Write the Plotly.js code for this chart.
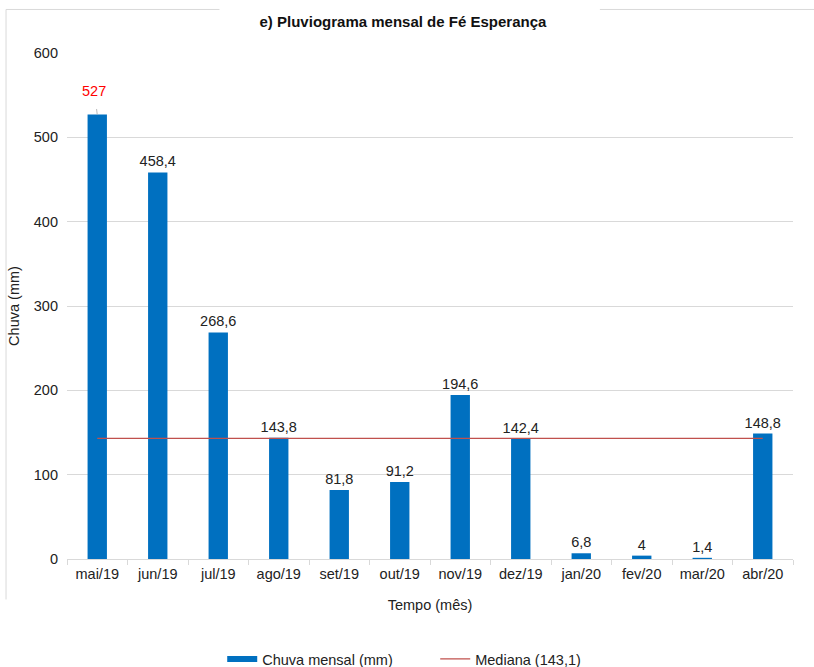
<!DOCTYPE html>
<html>
<head>
<meta charset="utf-8">
<script src="https://cdn.plot.ly/plotly-3.0.1.min.js"></script>
<style>
  html, body { margin: 0; padding: 0; background: #fff; }
  #chart { width: 814px; height: 667px; }
</style>
</head>
<body>
<div id="chart"></div>
<script>
// Monthly rainfall at Fé Esperança, May/2019 – Apr/2020
const months = ['mai/19', 'jun/19', 'jul/19', 'ago/19', 'set/19', 'out/19',
                'nov/19', 'dez/19', 'jan/20', 'fev/20', 'mar/20', 'abr/20'];
const rainfall = [527, 458.4, 268.6, 143.8, 81.8, 91.2, 194.6, 142.4, 6.8, 4, 1.4, 148.8];
const median = 143.1;

const fmt = v => String(v).replace('.', ',');
const FONT = 'Liberation Sans, Arial, sans-serif';
const FS = 14.5;
const BAR_COLOR = '#0070C0';

// peak month gets its own red callout; the rest are labelled on the bar
const peakIdx = rainfall.indexOf(Math.max(...rainfall));
const barText = rainfall.map((v, i) => i === peakIdx ? '' : fmt(v));

const bars = {
  type: 'bar',
  name: 'Chuva mensal (mm)',
  x: months,
  y: rainfall,
  marker: { color: BAR_COLOR },
  text: barText,
  textposition: 'outside',
  constraintext: 'none',
  cliponaxis: false,
  textfont: { family: FONT, size: FS, color: '#222' },
  showlegend: false,
  hoverinfo: 'x+y'
};

// legend key for the bars drawn as a thick flat swatch
const barKey = {
  type: 'scatter',
  mode: 'lines',
  name: 'Chuva mensal (mm)',
  x: [null], y: [null],
  line: { color: BAR_COLOR, width: 6 }
};

const medianLine = {
  type: 'scatter',
  mode: 'lines',
  name: 'Mediana (' + fmt(median) + ')',
  x: months,
  y: months.map(() => median),
  line: { color: '#C0504D', width: 1.3 }
};

const layout = {
  width: 814,
  height: 667,
  margin: { l: 67, r: 21, t: 53, b: 108 },
  paper_bgcolor: '#fff',
  plot_bgcolor: '#fff',
  font: { family: FONT, size: FS, color: '#222' },
  bargap: 0.68,
  title: {
    text: '<b>e) Pluviograma mensal de Fé Esperança</b>',
    font: { family: FONT, size: 15, color: '#111' },
    x: 0.495, xanchor: 'center', y: 0.967, yanchor: 'middle'
  },
  xaxis: {
    type: 'category',
    automargin: false,
    title: { text: 'Tempo (mês)', font: { family: FONT, size: FS, color: '#222' }, standoff: 18 },
    showline: true, linecolor: '#d9d9d9', linewidth: 1,
    ticks: 'outside', tickson: 'boundaries', ticklen: 5, tickcolor: '#d9d9d9',
    ticklabelstandoff: 2,
    tickfont: { family: FONT, size: FS, color: '#222' },
    showgrid: false, zeroline: false
  },
  yaxis: {
    automargin: false,
    title: { text: 'Chuva (mm)', font: { family: FONT, size: FS, color: '#222' }, standoff: 10 },
    range: [0, 600], dtick: 100,
    showgrid: true, gridcolor: '#d9d9d9', gridwidth: 1,
    zeroline: false, showline: false,
    ticklabelstandoff: 8,
    tickfont: { family: FONT, size: FS, color: '#222' },
    ticks: '', ticklen: 0
  },
  legend: {
    orientation: 'h',
    xref: 'container', yref: 'container',
    x: 0.273, xanchor: 'left', y: 0.012, yanchor: 'middle',
    font: { family: FONT, size: FS, color: '#222' },
    itemwidth: 30, entrywidth: 168, tracegroupgap: 0
  },
  annotations: [{
    x: months[peakIdx], y: rainfall[peakIdx],
    xref: 'x', yref: 'y',
    text: fmt(rainfall[peakIdx]),
    font: { family: FONT, size: FS, color: '#FF0000' },
    showarrow: true, arrowhead: 0, arrowwidth: 0.8, arrowcolor: '#aaa',
    ax: -3, ay: -24, standoff: 0, startstandoff: 9
  }],
  shapes: [
    // outer frame, broken under the title
    { type: 'line', xref: 'paper', yref: 'paper', x0: -0.084, x1: -0.084, y0: 1.086, y1: -0.08,
      line: { color: '#d9d9d9', width: 1 } },
    { type: 'line', xref: 'paper', yref: 'paper', x0: -0.084, x1: 0.21, y0: 1.086, y1: 1.086,
      line: { color: '#d9d9d9', width: 1 } },
    { type: 'line', xref: 'paper', yref: 'paper', x0: 0.734, x1: 1.03, y0: 1.086, y1: 1.086,
      line: { color: '#d9d9d9', width: 1 } }
  ]
};

Plotly.newPlot('chart', [bars, barKey, medianLine], layout, { displayModeBar: false, staticPlot: true });
</script>
</body>
</html>
